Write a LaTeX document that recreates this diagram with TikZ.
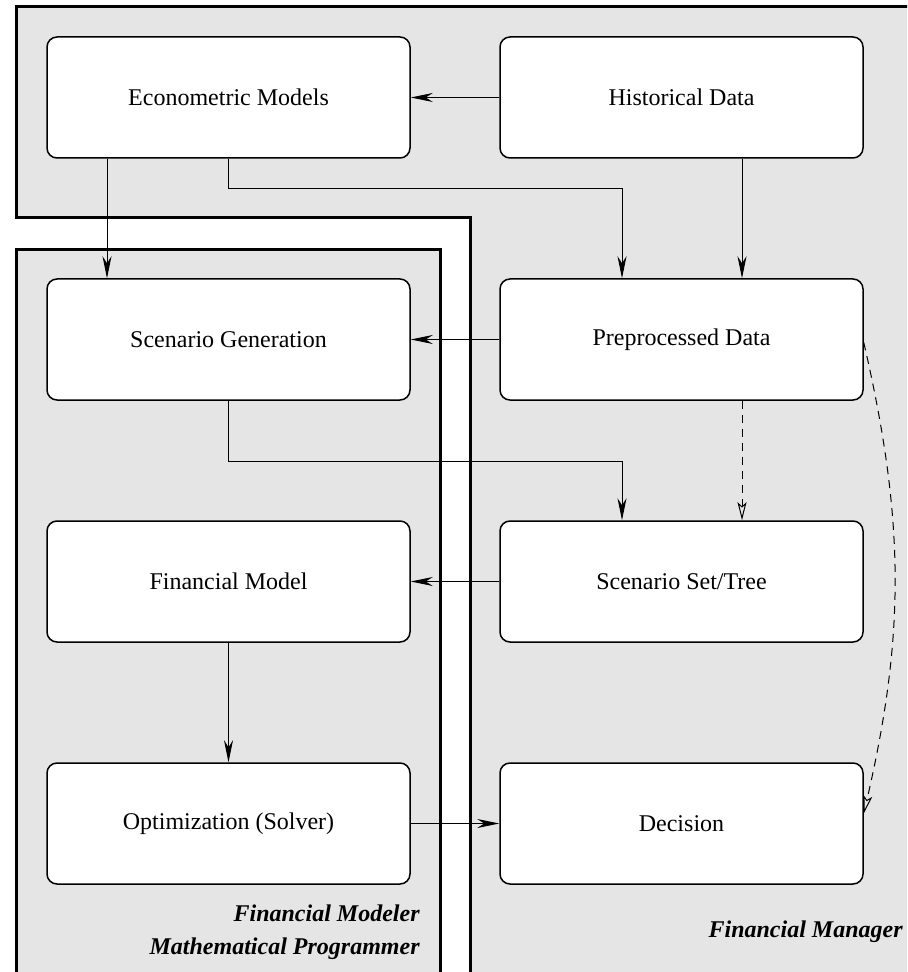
\documentclass[tikz,border=0pt]{standalone}
\usepackage{fontspec}
\setmainfont{Liberation Serif}
\usetikzlibrary{arrows.meta}

\begin{document}
\begin{tikzpicture}[x=0.5pt,y=-0.5pt,>={Stealth[length=11pt,width=4.5pt,inset=3.5pt]}]

        % Styles
        \tikzset{
          stage/.style={draw,rounded corners=5pt,fill=white,line width=0.75pt,
                        minimum width=181.5pt,minimum height=60.5pt,inner sep=0pt,
                        font=\fontsize{12}{14}\selectfont},
          frame/.style={draw,line width=1.5pt,fill=black!10},
          flow/.style={->,line width=0.5pt},
          hint/.style={-{Stealth[open,length=9pt,width=4.5pt,inset=2pt]},
                       line width=0.5pt,dash pattern=on 4pt off 3pt},
          role/.style={anchor=east,inner sep=0pt,
                       font=\fontsize{12}{14}\selectfont\bfseries\itshape}
        }

        % columns and rows
        \def\xL{228.5}   % left column
        \def\xR{681.5}   % right column
        \def\yA{97.5}    % data row
        \def\yB{339.5}   % generation row
        \def\yC{581.5}   % model row
        \def\yD{823.5}   % solver row

        \useasboundingbox (0,0) rectangle (907,972);

        %-------------------------------
        % Role areas
        %-------------------------------
        \begin{scope}
          \clip (0,0) rectangle (907,972);
          \path[frame] (16,7) -- (930,7) -- (930,1000) -- (470,1000)
                       -- (470,218) -- (16,218) -- cycle;
          \path[frame] (16,250) -- (440,250) -- (440,1000) -- (16,1000) -- cycle;
        \end{scope}

        %-------------------------------
        % Stages
        %-------------------------------
        \node[stage] (econ)     at (\xL,\yA) {Econometric Models};
        \node[stage] (hist)     at (\xR,\yA) {Historical Data};
        \node[stage] (scengen)  at (\xL,\yB) {Scenario Generation};
        \node[stage] (prep)     at (\xR,\yB) {Preprocessed Data};
        \node[stage] (finmod)   at (\xL,\yC) {Financial Model};
        \node[stage] (scenset)  at (\xR,\yC) {Scenario Set/Tree};
        \node[stage] (optim)    at (\xL,\yD) {Optimization (Solver)};
        \node[stage] (decision) at (\xR,\yD) {Decision};

        % bend points of the elbow arrows
        \coordinate (splitA) at (107,0);
        \coordinate (splitB) at (742,0);
        \coordinate (bendA)  at (622,189);
        \coordinate (bendB)  at (622,461);

        %-------------------------------
        % Flows
        %-------------------------------
        \draw[flow] (hist) -- (econ);
        \draw[flow] (econ.south -| splitA) -- (scengen.north -| splitA);
        \draw[flow] (econ.south) |- (bendA) -- (prep.north -| bendA);
        \draw[flow] (hist.south -| splitB) -- (prep.north -| splitB);
        \draw[flow] (prep) -- (scengen);
        \draw[flow] (scengen.south) |- (bendB) -- (scenset.north -| bendB);
        \draw[flow] (scenset) -- (finmod);
        \draw[flow] (finmod) -- (optim);
        \draw[flow] (optim) -- (decision);

        % dashed hints
        \draw[hint] (prep.south -| splitB) -- (scenset.north -| splitB);
        \draw[hint] ([yshift=-1.5pt]prep.east) to[bend left=13]
                    ([yshift=5pt]decision.east);

        %-------------------------------
        % Role labels
        %-------------------------------
        \node[role] (modeler)    at (420,913) {Financial Modeler};
        \node[role] (programmer) at (420,949) {Mathematical Programmer};
        \node[role] (manager)    at (903,932) {Financial Manager};

\end{tikzpicture}
\end{document}
